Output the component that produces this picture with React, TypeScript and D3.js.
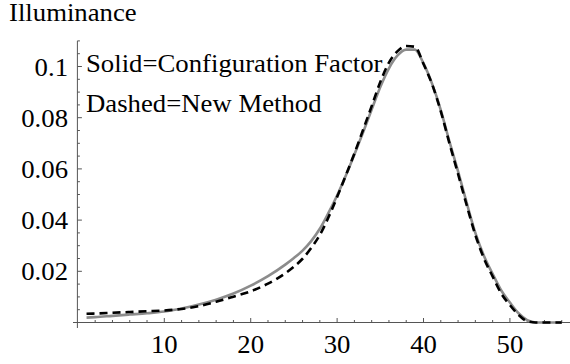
import * as d3 from "d3";
import { useEffect, useRef } from "react";

// sampled x positions shared by both curves
const xs = [1, 2, 4, 6, 8, 10, 12, 14, 16, 18, 20, 22, 24, 25, 26, 27, 28, 29, 30, 31, 32, 33, 34, 35, 36, 37, 38, 39, 40, 41, 42, 43, 44, 45, 46, 47, 48, 49, 50, 51, 52, 53, 54, 56];

// Solid = Configuration Factor
const solidValues = [0.0019, 0.0021, 0.0026, 0.0031, 0.0036, 0.0043, 0.0055, 0.007, 0.0089, 0.0113, 0.0144, 0.0181, 0.0226, 0.0252, 0.0281, 0.0318, 0.0366, 0.0428, 0.0496, 0.0573, 0.0656, 0.0742, 0.0832, 0.092, 0.0993, 0.1043, 0.1066, 0.1066, 0.1012, 0.0932, 0.083, 0.0707, 0.059, 0.0467, 0.035, 0.026, 0.019, 0.0125, 0.0078, 0.0036, 0.0009, 0, 0, 0];

// Dashed = New Method
const dashedValues = [0.0034, 0.0035, 0.0038, 0.0041, 0.0044, 0.0047, 0.0053, 0.0064, 0.0081, 0.0101, 0.0122, 0.0152, 0.0192, 0.0218, 0.0249, 0.0291, 0.0342, 0.0411, 0.049, 0.0574, 0.066, 0.0752, 0.0845, 0.094, 0.1015, 0.106, 0.108, 0.1077, 0.101, 0.093, 0.0825, 0.07, 0.058, 0.0458, 0.0342, 0.025, 0.018, 0.0113, 0.0068, 0.003, 0.0005, 0, 0, 0];

const xTicks = [10, 20, 30, 40, 50];
const yTicks = [0.02, 0.04, 0.06, 0.08, 0.1];
const legendLines = ["Solid=Configuration Factor", "Dashed=New Method"];

const FONT = "Liberation Serif, Times New Roman, serif";
const SX = 1.07;

export default function App() {
  const ref = useRef<SVGSVGElement | null>(null);

  useEffect(() => {
    if (!ref.current) return;
    const svg = d3.select(ref.current);
    svg.selectAll("*").remove();

    const x = d3.scaleLinear().domain([0, 57]).range([77.9, 570.4]);
    const y = d3.scaleLinear().domain([0, 0.11]).range([322.5, 40.9]);

    const axisColor = "#555";

    // X axis
    svg.append("line")
      .attr("x1", 73).attr("x2", 570)
      .attr("y1", y(0)).attr("y2", y(0))
      .attr("stroke", axisColor).attr("stroke-width", 1);

    const xMinor = d3.range(2, 57, 2).filter((v) => v % 10 !== 0);
    svg.append("g").selectAll("line").data(xMinor).enter().append("line")
      .attr("x1", (d) => x(d)).attr("x2", (d) => x(d))
      .attr("y1", y(0)).attr("y2", y(0) - 2.5)
      .attr("stroke", axisColor);
    svg.append("g").selectAll("line").data(xTicks).enter().append("line")
      .attr("x1", (d) => x(d)).attr("x2", (d) => x(d))
      .attr("y1", y(0)).attr("y2", y(0) - 4.5)
      .attr("stroke", axisColor);
    svg.append("g").selectAll("text").data(xTicks).enter().append("text")
      .attr("transform", (d) => `translate(${x(d)},353) scale(${SX},1)`)
      .attr("text-anchor", "middle")
      .attr("font-family", FONT).attr("font-size", 25)
      .text((d) => d);

    // Y axis
    svg.append("line")
      .attr("x1", x(0) - 0.5).attr("x2", x(0) - 0.5)
      .attr("y1", y(0.11)).attr("y2", 328)
      .attr("stroke", axisColor).attr("stroke-width", 1);

    const yMinor = d3.range(1, 23).map((i) => i * 0.005).filter((v) => Math.round(v * 1000) % 20 !== 0);
    svg.append("g").selectAll("line").data(yMinor).enter().append("line")
      .attr("x1", x(0) - 0.5).attr("x2", x(0) + 2)
      .attr("y1", (d) => y(d)).attr("y2", (d) => y(d))
      .attr("stroke", axisColor);
    svg.append("g").selectAll("line").data(yTicks).enter().append("line")
      .attr("x1", x(0) - 0.5).attr("x2", x(0) + 4)
      .attr("y1", (d) => y(d)).attr("y2", (d) => y(d))
      .attr("stroke", axisColor);
    svg.append("g").selectAll("text").data(yTicks).enter().append("text")
      .attr("transform", (d) => `translate(68,${y(d) + 9}) scale(${SX},1)`)
      .attr("text-anchor", "end")
      .attr("font-family", FONT).attr("font-size", 25)
      .text((d) => String(+d.toFixed(2)));

    // axis title
    svg.append("text")
      .attr("transform", `translate(9,21) scale(${SX},1)`)
      .attr("font-family", FONT).attr("font-size", 25)
      .text("Illuminance");

    // curves
    const pts = (vals: number[]) => xs.map((v, i) => [v, vals[i]] as [number, number]);
    const line = d3.line<[number, number]>()
      .x((d) => x(d[0]))
      .y((d) => y(d[1]))
      .curve(d3.curveMonotoneX);

    svg.append("path")
      .attr("d", line(pts(solidValues)))
      .attr("fill", "none")
      .attr("stroke", "#8c8c8c")
      .attr("stroke-width", 2.6);

    svg.append("path")
      .attr("d", line(pts(dashedValues)))
      .attr("fill", "none")
      .attr("stroke", "#000")
      .attr("stroke-width", 2.6)
      .attr("stroke-dasharray", "8,5");

    // legend text
    svg.append("g").selectAll("text").data(legendLines).enter().append("text")
      .attr("transform", (_d, i) => `translate(86,${72 + i * 40}) scale(${SX},1)`)
      .attr("font-family", FONT).attr("font-size", 25)
      .text((d) => d);
  }, []);

  return (
    <svg
      ref={ref}
      width={570}
      height={364}
      style={{ position: "absolute", left: 0, top: 0, background: "#fff" }}
    />
  );
}
